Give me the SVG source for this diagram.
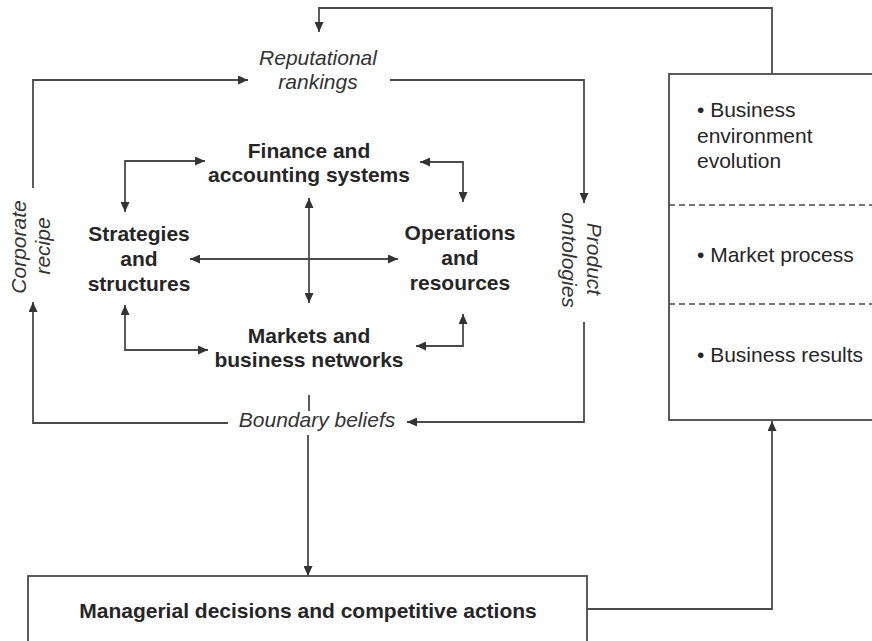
<svg xmlns="http://www.w3.org/2000/svg" width="872" height="641" viewBox="0 0 872 641">
<defs>
<style>
.ln{fill:none;stroke:#4a4a4a;stroke-width:1.8}
.box{fill:#fff;stroke:#4a4a4a;stroke-width:1.8}
.dash{stroke:#4a4a4a;stroke-width:1.5;stroke-dasharray:6 4}
.b{font-family:"Liberation Sans",Arial,sans-serif;font-weight:bold;font-size:21px;fill:#262626;text-anchor:middle}
.i{font-family:"Liberation Sans",Arial,sans-serif;font-style:italic;font-size:21px;fill:#333;text-anchor:middle}
.r{font-family:"Liberation Sans",Arial,sans-serif;font-size:21px;fill:#262626}
</style>
<marker id="ah" markerUnits="userSpaceOnUse" markerWidth="11" markerHeight="9" refX="10" refY="4.5" orient="auto-start-reverse">
<path d="M0,0 L10,4.5 L0,9 z" fill="#333"/>
</marker>
</defs>
<rect width="872" height="641" fill="#fff"/>
<g id="connectors">
<polyline class="ln" points="772,74 772,8 319,8 319,32" marker-end="url(#ah)"/>
<polyline class="ln" points="33,188 33,80 248,80" marker-end="url(#ah)"/>
<polyline class="ln" points="390,80 584,80 584,203" marker-end="url(#ah)"/>
<polyline class="ln" points="584,322 584,422 407,422" marker-end="url(#ah)"/>
<polyline class="ln" points="228,423 33,423 33,302" marker-end="url(#ah)"/>
<polyline class="ln" points="308,435 308,576" marker-end="url(#ah)"/>
<line class="ln" x1="309" y1="395" x2="309" y2="411"/>
<polyline class="ln" points="587,609 772,609 772,421" marker-end="url(#ah)"/>
<polyline class="ln" points="125,212 125,161 205,161" marker-start="url(#ah)" marker-end="url(#ah)"/>
<polyline class="ln" points="420,162 463,162 463,202" marker-start="url(#ah)" marker-end="url(#ah)"/>
<line class="ln" x1="309" y1="198" x2="309" y2="303" marker-start="url(#ah)" marker-end="url(#ah)"/>
<line class="ln" x1="190" y1="259" x2="398" y2="259" marker-start="url(#ah)" marker-end="url(#ah)"/>
<polyline class="ln" points="125,305 125,350 208,350" marker-start="url(#ah)" marker-end="url(#ah)"/>
<polyline class="ln" points="463,314 463,346 416,346" marker-start="url(#ah)" marker-end="url(#ah)"/>
</g>
<g id="finance">
<text class="b" x="309" y="158">Finance and</text>
<text class="b" x="309" y="182">accounting systems</text>
</g>
<g id="strategies">
<text class="b" x="139" y="241">Strategies</text>
<text class="b" x="139" y="266">and</text>
<text class="b" x="139" y="291">structures</text>
</g>
<g id="operations">
<text class="b" x="460" y="240">Operations</text>
<text class="b" x="460" y="265">and</text>
<text class="b" x="460" y="290">resources</text>
</g>
<g id="markets">
<text class="b" x="309" y="343">Markets and</text>
<text class="b" x="309" y="367">business networks</text>
</g>
<g id="reputational">
<text class="i" x="318" y="65">Reputational</text>
<text class="i" x="318" y="89">rankings</text>
</g>
<g id="boundary">
<text class="i" x="317" y="427">Boundary beliefs</text>
</g>
<g id="corporate">
<text class="i" transform="rotate(-90 26 247)" x="26" y="247">Corporate</text>
<text class="i" transform="rotate(-90 50 246)" x="50" y="246">recipe</text>
</g>
<g id="product">
<text class="i" transform="rotate(90 587 259)" x="587" y="259">Product</text>
<text class="i" transform="rotate(90 562 260)" x="562" y="260">ontologies</text>
</g>
<g id="environment">
<rect class="box" x="669" y="74" width="215" height="346"/>
<line class="dash" x1="669" y1="205" x2="872" y2="205"/>
<line class="dash" x1="669" y1="304" x2="872" y2="304"/>
<text class="r" x="697" y="117">• Business</text>
<text class="r" x="697" y="143">environment</text>
<text class="r" x="697" y="168">evolution</text>
<text class="r" x="697" y="262">• Market process</text>
<text class="r" x="697" y="362">• Business results</text>
</g>
<g id="managerial">
<rect class="box" x="28" y="576" width="559" height="80"/>
<text class="b" x="308" y="618">Managerial decisions and competitive actions</text>
</g>
</svg>
